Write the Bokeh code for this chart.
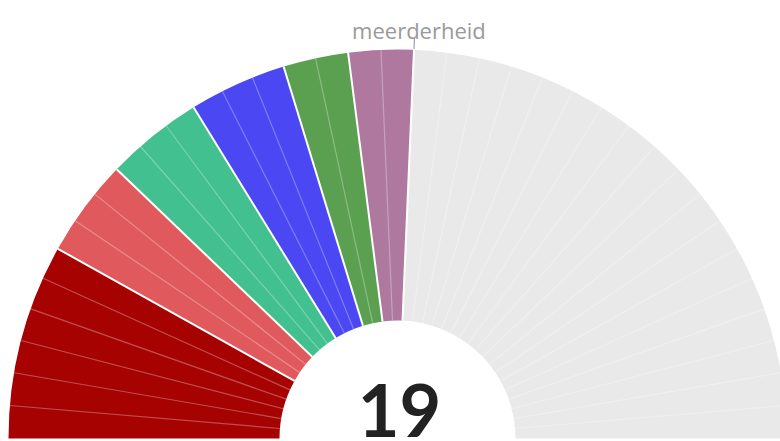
import numpy as np
from bokeh.plotting import figure
from bokeh.models import Range1d
from bokeh.core.properties import value
from bokeh.embed import file_html
from bokeh.resources import INLINE

# Data
parties = ["p1", "p2", "p3", "p4", "p5", "p6", "overig"]
seats = [6, 3, 3, 3, 2, 2, 18]
colors = ["#a60202", "#e05a5d", "#42c08f", "#4a47f3", "#5b9f50", "#ae789f", "#e9e9e9"]
coalition_seats = 19
majority = 19
majority_label = "meerderheid"

total = sum(seats)
W, H = 780, 441
cx, cy = 397, 3
r_out, r_in = 389, 118

p = figure(width=W, height=H, output_backend="svg", toolbar_location=None,
           x_range=Range1d(0, W), y_range=Range1d(0, H), min_border=0)
p.axis.visible = False
p.grid.visible = False
p.outline_line_color = None
p.background_fill_color = "white"

delta = np.pi / total
cum = np.cumsum([0] + seats)
starts = [np.pi - cum[i + 1] * delta for i in range(len(seats))]
ends = [np.pi - cum[i] * delta for i in range(len(seats))]
p.annular_wedge(x=cx, y=cy, inner_radius=r_in, outer_radius=r_out,
                start_angle=starts, end_angle=ends, fill_color=colors,
                line_color=None)

# seat separators
seat_angles = [np.pi - k * delta for k in range(1, total) if k not in cum]
x0 = [cx + r_in * np.cos(a) for a in seat_angles]
y0 = [cy + r_in * np.sin(a) for a in seat_angles]
x1 = [cx + r_out * np.cos(a) for a in seat_angles]
y1 = [cy + r_out * np.sin(a) for a in seat_angles]
p.segment(x0=x0, y0=y0, x1=x1, y1=y1, line_color="white", line_alpha=0.3, line_width=1.2)

# party separators
party_angles = [np.pi - c * delta for c in cum[1:-1]]
p.segment(x0=[cx + r_in * np.cos(a) for a in party_angles],
          y0=[cy + r_in * np.sin(a) for a in party_angles],
          x1=[cx + r_out * np.cos(a) for a in party_angles],
          y1=[cy + r_out * np.sin(a) for a in party_angles],
          line_color="white", line_width=2)

# majority tick
am = np.pi - majority * delta
p.segment(x0=[cx + (r_out + 1) * np.cos(am)], y0=[cy + (r_out + 1) * np.sin(am)],
          x1=[cx + (r_out + 12) * np.cos(am)], y1=[cy + (r_out + 12) * np.sin(am)],
          line_color="#a0a0a0", line_width=1.2)
p.text(x=[cx + (r_out + 22) * np.cos(am) + 4], y=[cy + (r_out + 20) * np.sin(am)],
       text=[majority_label], text_align="center", text_baseline="alphabetic",
       text_font=value("Open Sans"), text_font_size="22px", text_color="#9a9a9a")

p.text(x=[cx + 2], y=[cy + 28], text=[str(coalition_seats)], text_align="center",
       text_baseline="middle", text_font=value("Lato"), text_font_style="bold",
       text_font_size="72px", text_color="#222222")

open("out.html", "w").write(file_html(p, INLINE))
